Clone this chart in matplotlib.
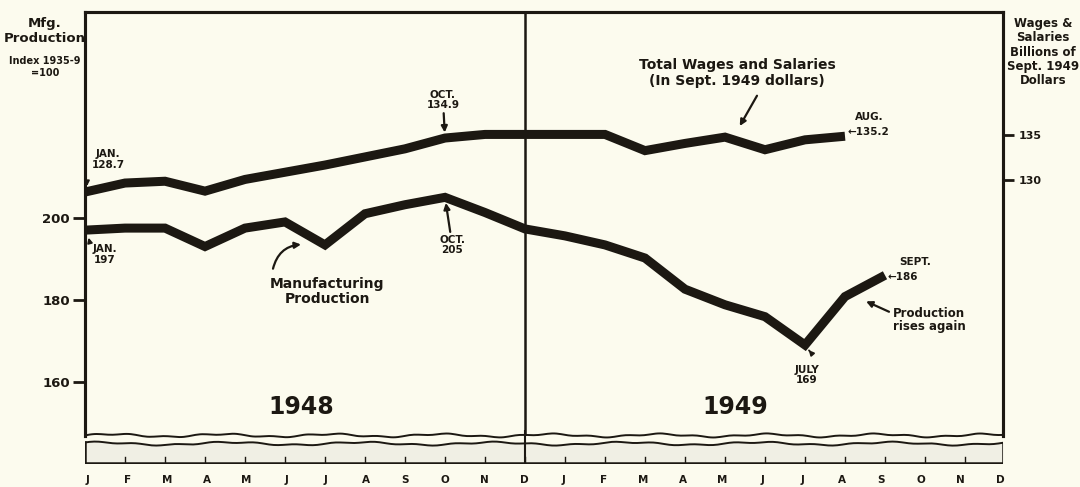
import numpy as np
import matplotlib
matplotlib.use("Agg")
import matplotlib.pyplot as plt
from matplotlib.transforms import blended_transform_factory

# monthly index: 0 = Jan 1948 ... 23 = Dec 1949
month_labels = ['J', 'F', 'M', 'A', 'M', 'J', 'J', 'A', 'S', 'O', 'N', 'D',
                'J', 'F', 'M', 'A', 'M', 'J', 'J', 'A', 'S', 'O', 'N', 'D']

# manufacturing production index (1935-9 = 100), Jan 1948 - Sept 1949
production = [197, 197.5, 197.5, 193, 197.5, 199, 193.4, 201, 203.2, 205, 201.3, 197.3,
              195.6, 193.4, 190.2, 182.6, 178.8, 175.9, 169, 180.8, 186]

# total wages and salaries, billions of Sept. 1949 dollars, Jan 1948 - Aug 1949
wages = [128.7, 129.7, 129.9, 128.8, 130.1, 130.9, 131.7, 132.6, 133.5, 134.7, 135.1, 135.1,
         135.1, 135.1, 133.3, 134.1, 134.8, 133.4, 134.5, 134.9]

left_ticks = [160, 180, 200]
right_ticks = [130, 135]

ink = '#1c1812'
paper = '#fcfbee'
plt.rcParams['font.family'] = ['DejaVu Sans']
plt.rcParams['font.weight'] = 'bold'

W, H = 1080, 487
fig = plt.figure(figsize=(W / 100, H / 100), dpi=100, facecolor=paper)

# main chart box
ax = fig.add_axes([85 / W, 1 - 436 / H, 918 / W, 424 / H])
ax.set_facecolor(paper)
ax2 = ax.twinx()

x_prod = np.arange(len(production))
x_wage = np.arange(len(wages))
ax.plot(x_prod, production, color=ink, lw=6.5, solid_joinstyle='miter', solid_capstyle='butt')
ax2.plot(x_wage, wages, color=ink, lw=6.5, solid_joinstyle='miter', solid_capstyle='butt')

ax.set_xlim(0, 22.95)
ax.set_ylim(146.8, 250.2)
ax2.set_ylim(101.6, 148.7)
ax.axvline(11, color=ink, lw=1.8)

for a in (ax, ax2):
    for s in a.spines.values():
        s.set_linewidth(2.2)
        s.set_color(ink)
    a.spines['bottom'].set_visible(False)
ax.set_xticks([])
ax.set_yticks(left_ticks)
ax.set_yticklabels([str(t) for t in left_ticks], fontsize=9.5, fontweight='heavy')
ax.tick_params(axis='y', direction='out', length=9, width=2, pad=2, colors=ink)
ax2.set_yticks(right_ticks)
ax2.set_yticklabels([str(t) for t in right_ticks], fontsize=8, fontweight='heavy')
ax2.tick_params(axis='y', direction='out', length=8, width=2, pad=3, colors=ink)

arrow = dict(arrowstyle='-|>', color=ink, lw=1.6, mutation_scale=9, shrinkA=0, shrinkB=4)
small = dict(fontsize=7.5, fontweight='heavy', color=ink, ha='center', va='center',
             linespacing=1.05)
mid = dict(fontsize=10, fontweight='heavy', color=ink, ha='center', va='center',
           linespacing=1.15)

# wage annotations
ax2.annotate('JAN.\n128.7', xy=(0.05, wages[0] + 0.5), xytext=(0.58, 132.3),
             arrowprops=dict(arrowstyle='-|>', color=ink, lw=1.3, mutation_scale=7,
                             shrinkA=8, shrinkB=1, connectionstyle='arc3,rad=0.4'),
             **small)
ax2.annotate('OCT.\n134.9', xy=(9, wages[9]), xytext=(8.95, 138.9), arrowprops=arrow,
             **small)
ax2.annotate('', xy=(16.3, 135.5), xytext=(16.8, 139.4), arrowprops=arrow)
ax2.text(16.3, 141.9, 'Total Wages and Salaries\n(In Sept. 1949 dollars)', **mid)
ax2.text(19.6, 137.0, 'AUG.', **small)
ax2.text(19.05, 135.4, '\u2190135.2', fontsize=7.5, fontweight='heavy', color=ink,
         ha='left', va='center')

# production annotations
ax.annotate('JAN.\n197', xy=(0.08, production[0] - 1.5), xytext=(0.5, 191.1),
            arrowprops=dict(arrowstyle='-|>', color=ink, lw=1.3, mutation_scale=7,
                            shrinkA=9, shrinkB=1, connectionstyle='arc3,rad=-0.3'),
            **small)
ax.annotate('OCT.\n205', xy=(9, production[9]), xytext=(9.18, 193.4), arrowprops=arrow,
            **small)
ax.annotate('', xy=(5.4, 193.5), xytext=(4.7, 187.6),
            arrowprops=dict(arrowstyle='-|>', color=ink, lw=1.6, mutation_scale=9,
                            shrinkA=0, shrinkB=0, connectionstyle='arc3,rad=-0.35'))
ax.text(6.05, 182.0, 'Manufacturing\nProduction', **mid)
ax.text(20.75, 189.3, 'SEPT.', **small)
ax.text(20.05, 185.6, '\u2190186', fontsize=7.5, fontweight='heavy', color=ink,
        ha='left', va='center')
ax.annotate('', xy=(19.4, 180.2), xytext=(20.1, 177.1), arrowprops=arrow)
ax.text(21.1, 175.1, 'Production\nrises again', fontsize=8.5, fontweight='heavy',
        color=ink, ha='center', va='center', linespacing=1.0)
ax.annotate('JULY\n169', xy=(18.07, 168.0), xytext=(18.05, 161.7),
            arrowprops=dict(arrowstyle='-|>', color=ink, lw=1.3, mutation_scale=7,
                            shrinkA=9, shrinkB=1, connectionstyle='arc3,rad=0.5'),
            **small)
ax.text(5.4, 153.9, '1948', fontsize=17, fontweight='heavy', color=ink,
        ha='center', va='center')
ax.text(16.25, 153.9, '1949', fontsize=17, fontweight='heavy', color=ink,
        ha='center', va='center')

# axis titles
fig.text(45 / W, 1 - 31 / H, 'Mfg.\nProduction', fontsize=9.5, fontweight='heavy',
         color=ink, ha='center', va='center', linespacing=1.1)
fig.text(45 / W, 1 - 67 / H, 'Index 1935-9\n=100', fontsize=7, fontweight='heavy',
         color=ink, ha='center', va='center', linespacing=1.25)
fig.text(1043 / W, 1 - 52 / H, 'Wages &\nSalaries\nBillions of\nSept. 1949\nDollars',
         fontsize=8.5, fontweight='heavy', color=ink, ha='center', va='center',
         linespacing=1.12)

# torn-axis strip under the chart
st = fig.add_axes([85 / W, 1 - 464 / H, 918 / W, 34 / H], sharex=ax)
st.set_facecolor('none')
st.set_ylim(0, 1)
st.axis('off')
xx = np.linspace(0, 22.95, 400)
wave1 = 0.84 + 0.04 * np.sin(xx * 2.3) + 0.02 * np.sin(xx * 7.1)
wave2 = 0.60 + 0.04 * np.sin(xx * 1.9 + 1) + 0.02 * np.sin(xx * 6.3)
st.fill_between(xx, 0.03, wave2, color='#f0efe4', lw=0)
st.plot(xx, wave1, color=ink, lw=1.4)
st.plot(xx, wave2, color=ink, lw=1.4)
st.plot([0, 22.95], [0.03, 0.03], color=ink, lw=1.8)
for xv in (0, 22.95):
    st.plot([xv, xv], [0.03, wave2[0] if xv == 0 else wave2[-1]], color=ink, lw=1.8)
    st.plot([xv, xv], [wave1[0] if xv == 0 else wave1[-1], 1.0], color=ink, lw=2.2)
st.plot([11, 11], [0.03, 1.0], color=ink, lw=1.5)
for i in range(1, 23):
    st.plot([i, i], [0.03, 0.2], color=ink, lw=1.0)

tr = blended_transform_factory(ax.transData, fig.transFigure)
for i, lab in enumerate(month_labels):
    fig.text(i * 0.992 + 0.07, 1 - 480 / H, lab, transform=tr, fontsize=7.5,
             fontweight='heavy', color=ink, ha='center', va='center')

fig.savefig('out.png', dpi=100, facecolor=paper)
